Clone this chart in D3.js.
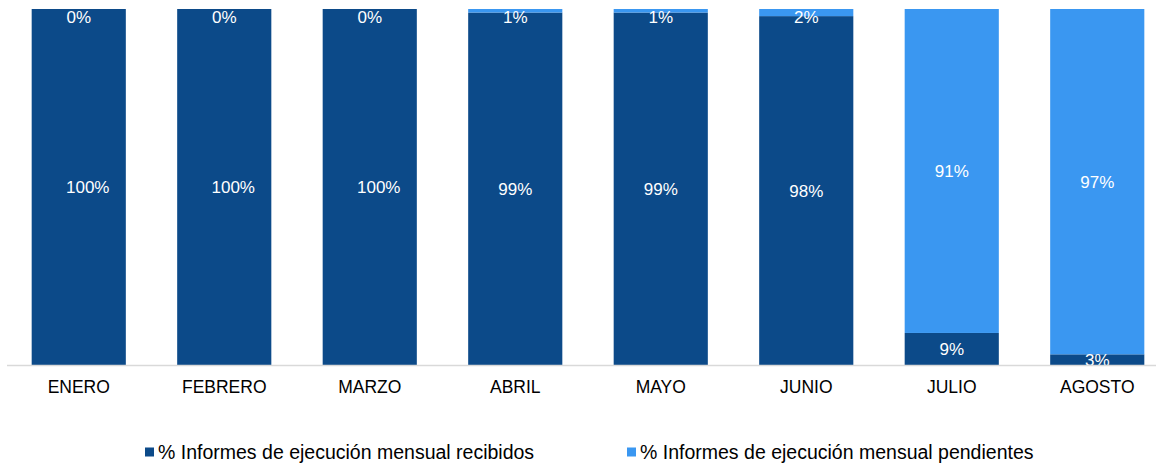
<!DOCTYPE html>
<html>
<head>
<meta charset="utf-8">
<script src="https://cdn.jsdelivr.net/npm/d3@7"></script>
<style>
  body { margin: 0; background: #fff; }
  text { font-family: "Liberation Sans", Arial, sans-serif; }
</style>
</head>
<body>
<svg id="vis"></svg>
<script>
// values
const months = ["ENERO", "FEBRERO", "MARZO", "ABRIL", "MAYO", "JUNIO", "JULIO", "AGOSTO"];
const recibidos = [100, 100, 100, 99, 99, 98, 9, 3];
const pendientes = [0, 0, 0, 1, 1, 2, 91, 97];
const seriesNames = ["% Informes de ejecución mensual recibidos", "% Informes de ejecución mensual pendientes"];
const colors = ["#0C4A89", "#3A97F1"];

function main()
{
    const width = 1156;
    const height = 466;
    const plot = {top: 9, bottom: 365, left: 6, right: 1170};

    let svg = d3.select('#vis')
        .attr('width', width)
        .attr('height', height);

    let xScale = d3.scaleBand()
        .domain(months)
        .range([plot.left, plot.right])
        .paddingInner(0.353)
        .paddingOuter(0.1765);

    let yScale = d3.scaleLinear()
        .domain([0, 100])
        .range([plot.bottom, plot.top]);

    let rows = months.map((m, i) => ({month: m, recibidos: recibidos[i], pendientes: pendientes[i]}));
    let stack = d3.stack().keys(["recibidos", "pendientes"])(rows);

    svg.append("clipPath").attr("id", "plotclip")
        .append("rect")
        .attr("x", 0).attr("y", plot.top)
        .attr("width", width).attr("height", plot.bottom - plot.top);

    let layers = svg.append("g").selectAll("g")
        .data(stack)
        .enter()
        .append("g")
        .style("fill", (d, i) => colors[i]);

    layers.selectAll("rect")
        .data(d => d)
        .enter()
        .append("rect")
        .attr("x", d => xScale(d.data.month))
        .attr("width", xScale.bandwidth())
        .attr("y", d => yScale(d[1]))
        .attr("height", d => yScale(d[0]) - yScale(d[1]));

    // data labels, clipped to the plot area like the original
    let labels = svg.append("g").attr("clip-path", "url(#plotclip)");
    stack.forEach(function(layer, li)
    {
        labels.selectAll(null)
            .data(layer)
            .enter()
            .append("text")
            .attr("x", d => xScale(d.data.month) + xScale.bandwidth() / 2)
            .attr("dx", d => (d[1] - d[0]) === 100 ? 9 : 0)   // the 100% labels sit a bit right in the original
            .attr("y", function(d) {
                let mid = (yScale(d[0]) + yScale(d[1])) / 2;
                if (li === 1) mid = Math.max(mid, plot.top + 8);
                return mid;
            })
            .attr("dy", "0.35em")
            .attr("text-anchor", "middle")
            .style("fill", "#fff")
            .style("font-size", "17px")
            .text(d => (d[1] - d[0]) + "%");
    });

    // x axis
    svg.append("line")
        .attr("x1", 7).attr("x2", width)
        .attr("y1", plot.bottom + 0.5).attr("y2", plot.bottom + 0.5)
        .style("stroke", "#d9d9d9")
        .style("stroke-width", 1.5);

    svg.append("g").selectAll("text")
        .data(months)
        .enter()
        .append("text")
        .attr("x", d => xScale(d) + xScale.bandwidth() / 2)
        .attr("y", 387)
        .attr("dy", "0.35em")
        .attr("text-anchor", "middle")
        .style("fill", "#000")
        .style("font-size", "17.5px")
        .text(d => d);

    // legend
    const legendX = [145, 627];
    let legend = svg.append("g").selectAll("g")
        .data(seriesNames)
        .enter()
        .append("g")
        .attr("transform", (d, i) => "translate(" + legendX[i] + ",452)");

    legend.append("rect")
        .attr("x", 0).attr("y", -4.5)
        .attr("width", 9).attr("height", 9)
        .style("fill", (d, i) => colors[i]);

    legend.append("text")
        .attr("x", 13)
        .attr("dy", "0.35em")
        .style("fill", "#000")
        .style("font-size", "19.5px")
        .text(d => d);
}
main();
</script>
</body>
</html>
